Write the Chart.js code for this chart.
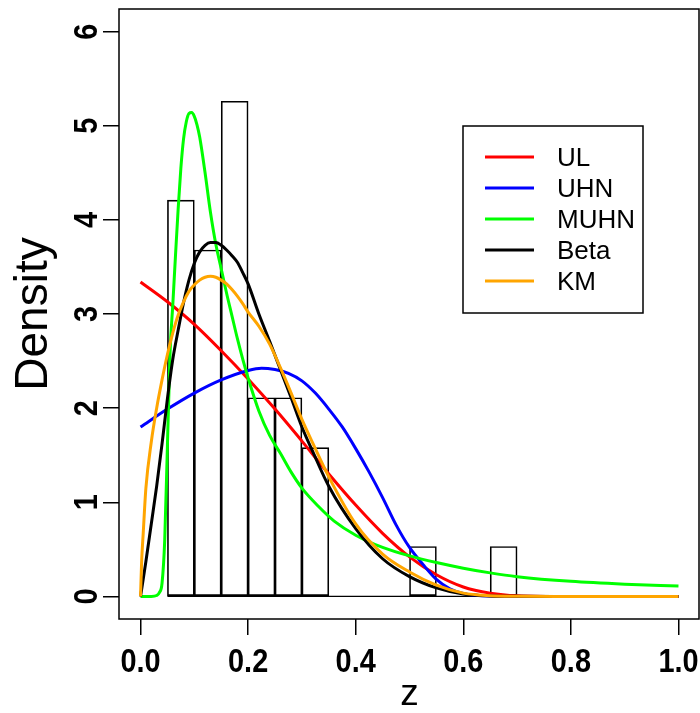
<!DOCTYPE html>
<html>
<head>
<meta charset="utf-8">
<script src="https://cdn.jsdelivr.net/npm/chart.js@4.4.1/dist/chart.umd.min.js"></script>
<style>
  html, body { margin: 0; padding: 0; background: #fff; }
  #wrap { position: relative; width: 700px; height: 713px; }
</style>
</head>
<body>
<div id="wrap"><canvas id="densChart"></canvas></div>
<script>
/* ─────────────── datos ─────────────── */
// histograma (densidad por intervalo)
const breaks = [0.05, 0.10, 0.15, 0.20, 0.25, 0.30, 0.35, 0.40, 0.45, 0.50, 0.55, 0.60, 0.65, 0.70];
const histDensity = [4.21, 3.68, 5.26, 2.11, 2.11, 1.58, 0, 0, 0, 0.53, 0, 0, 0.53];

const xTicks = [0, 0.2, 0.4, 0.6, 0.8, 1.0];
const yTicks = [0, 1, 2, 3, 4, 5, 6];

// UL
const zUL    = [0, 0.05, 0.10, 0.15, 0.20, 0.25, 0.30, 0.35, 0.40, 0.45, 0.50, 0.55, 0.60, 0.65, 0.70, 0.80, 0.90, 1.00];
const densUL = [3.34, 3.13, 2.89, 2.61, 2.31, 1.99, 1.65, 1.30, 0.97, 0.67, 0.42, 0.23, 0.10, 0.035, 0.008, 0, 0, 0];

// UHN
const zUHN    = [0, 0.05, 0.10, 0.15, 0.20, 0.225, 0.25, 0.275, 0.30, 0.325, 0.35, 0.375, 0.40, 0.425, 0.45, 0.475, 0.50, 0.525, 0.55, 0.575, 0.60, 0.65, 0.70, 0.80, 1.00];
const densUHN = [1.80, 1.99, 2.16, 2.30, 2.40, 2.425, 2.41, 2.37, 2.29, 2.16, 1.99, 1.80, 1.57, 1.32, 1.05, 0.76, 0.52, 0.34, 0.18, 0.08, 0.03, 0.003, 0, 0, 0];

// MUHN
const zMUHN    = [0, 0.02, 0.03, 0.035, 0.04, 0.045, 0.05, 0.055, 0.06, 0.065, 0.07, 0.075, 0.08, 0.085, 0.09, 0.095, 0.10, 0.105, 0.11, 0.12, 0.13, 0.14, 0.15, 0.16, 0.17, 0.18, 0.19, 0.20, 0.22, 0.24, 0.26, 0.28, 0.30, 0.33, 0.36, 0.40, 0.45, 0.50, 0.55, 0.60, 0.65, 0.70, 0.80, 0.90, 1.00];
const densMUHN = [0, 0, 0.01, 0.04, 0.14, 0.60, 1.60, 2.60, 3.10, 3.62, 4.12, 4.55, 4.86, 5.04, 5.13, 5.14, 5.10, 5.01, 4.88, 4.50, 4.08, 3.74, 3.48, 3.22, 2.98, 2.74, 2.52, 2.32, 1.97, 1.71, 1.52, 1.32, 1.15, 0.96, 0.80, 0.65, 0.52, 0.43, 0.36, 0.30, 0.25, 0.21, 0.16, 0.13, 0.11];

// Beta
const zBeta    = [0, 0.01, 0.02, 0.03, 0.04, 0.05, 0.06, 0.07, 0.08, 0.09, 0.10, 0.11, 0.12, 0.13, 0.14, 0.15, 0.16, 0.17, 0.18, 0.19, 0.20, 0.22, 0.24, 0.26, 0.28, 0.30, 0.32, 0.35, 0.40, 0.45, 0.50, 0.55, 0.60, 0.65, 0.70, 0.80, 1.00];
const densBeta = [0, 0.37, 0.77, 1.17, 1.62, 2.10, 2.52, 2.83, 3.12, 3.36, 3.54, 3.66, 3.73, 3.76, 3.76, 3.73, 3.68, 3.62, 3.55, 3.44, 3.32, 3.00, 2.71, 2.41, 2.11, 1.80, 1.54, 1.17, 0.72, 0.40, 0.21, 0.09, 0.025, 0.005, 0.001, 0, 0];

// KM
const zKM    = [0, 0.002, 0.005, 0.01, 0.02, 0.03, 0.04, 0.05, 0.06, 0.07, 0.08, 0.09, 0.10, 0.11, 0.12, 0.13, 0.14, 0.15, 0.16, 0.17, 0.18, 0.19, 0.20, 0.22, 0.24, 0.26, 0.28, 0.30, 0.32, 0.35, 0.40, 0.45, 0.50, 0.55, 0.60, 0.65, 0.70, 0.80, 1.00];
const densKM = [0, 0.36, 0.67, 1.15, 1.64, 2.00, 2.30, 2.57, 2.80, 2.99, 3.13, 3.24, 3.31, 3.36, 3.39, 3.40, 3.39, 3.36, 3.32, 3.26, 3.19, 3.11, 3.02, 2.87, 2.68, 2.43, 2.16, 1.88, 1.63, 1.27, 0.77, 0.45, 0.26, 0.12, 0.035, 0.008, 0.002, 0, 0];

/* ─────────────── helpers ─────────────── */
const toXY = (xs, ys) => xs.map((x, i) => ({ x: x, y: ys[i] }));

const TICK_FONT = "bold 34px 'Liberation Sans', Arial, sans-serif";
const TEXT_FONT = "'Liberation Sans', Arial, sans-serif";
const NARROW = 0.85;   // la fuente de los ejes es condensada

function curve(label, xs, ys, color, order) {
  return {
    type: "line",
    label: label,
    data: toXY(xs, ys),
    borderColor: color,
    borderWidth: 3,
    pointRadius: 0,
    fill: false,
    cubicInterpolationMode: "monotone",
    order: order
  };
}

const histData = breaks.slice(0, -1).map((b, i) => ({ x: (b + breaks[i + 1]) / 2, y: histDensity[i] }));

function narrowText(ctx, text, x, y, rot) {
  ctx.save();
  ctx.translate(x, y);
  if (rot) ctx.rotate(rot);
  ctx.scale(NARROW, 1);
  ctx.fillText(text, 0, 0);
  ctx.restore();
}

/* caja del gráfico, etiquetas de ejes y leyenda */
const boxPlugin = {
  id: "rbox",
  afterDraw(chart) {
    const { ctx, chartArea: a } = chart;
    ctx.save();
    ctx.strokeStyle = "#000";
    ctx.lineWidth = 1.5;
    ctx.strokeRect(a.left, a.top, a.right - a.left - 1, a.bottom - a.top);

    // etiquetas de los ticks
    ctx.fillStyle = "#000";
    ctx.font = TICK_FONT;
    ctx.textAlign = "center";
    ctx.textBaseline = "middle";
    const xs = chart.scales.x, ys = chart.scales.y;
    xs.ticks.forEach(t => narrowText(ctx, t.value.toFixed(1), xs.getPixelForValue(t.value), 663, 0));
    ys.ticks.forEach(t => narrowText(ctx, String(t.value), 88, ys.getPixelForValue(t.value), -Math.PI / 2));

    // leyenda
    ctx.lineWidth = 1.5;
    ctx.strokeRect(463, 126, 180, 187);
    const curves = chart.data.datasets.filter(d => d.type === "line" && d.label !== "base");
    ctx.font = "26px " + TEXT_FONT;
    ctx.textAlign = "left";
    ctx.textBaseline = "alphabetic";
    curves.forEach((d, i) => {
      const y = 157 + 31 * i;
      ctx.strokeStyle = d.borderColor;
      ctx.lineWidth = 3;
      ctx.beginPath();
      ctx.moveTo(485, y);
      ctx.lineTo(534, y);
      ctx.stroke();
      ctx.fillText(d.label, 557, y + 9);
    });
    ctx.restore();
  }
};

/* ─────────────── gráfico ─────────────── */
const ctx = document.getElementById("densChart").getContext("2d");
new Chart(ctx, {
  type: "bar",
  data: {
    datasets: [
      {
        type: "bar",
        label: "hist",
        data: histData,
        backgroundColor: "rgba(0,0,0,0)",
        borderColor: "#000",
        borderWidth: 1,
        borderSkipped: false,
        barPercentage: 1,
        categoryPercentage: 1,
        order: 10
      },
      {
        type: "line",
        label: "base",
        data: [{ x: breaks[0], y: 0 }, { x: breaks[breaks.length - 1], y: 0 }],
        borderColor: "#000",
        borderWidth: 1.2,
        pointRadius: 0,
        order: 9
      },
      curve("UL", zUL, densUL, "#FF0000", 5),
      curve("UHN", zUHN, densUHN, "#0000FF", 4),
      curve("MUHN", zMUHN, densMUHN, "#00FF00", 3),
      curve("Beta", zBeta, densBeta, "#000000", 2),
      curve("KM", zKM, densKM, "#FFA500", 1)
    ]
  },
  options: {
    responsive: true,
    maintainAspectRatio: false,
    animation: false,
    layout: { padding: { top: 9, right: 0, left: 0, bottom: 0 } },
    plugins: { legend: { display: false }, tooltip: { enabled: false } },
    scales: {
      x: {
        type: "linear",
        min: -0.04,
        max: 1.04,
        offset: false,
        afterBuildTicks: s => { s.ticks = xTicks.map(v => ({ value: v })); },
        afterFit: s => { s.height = 94; s.paddingLeft = 0; s.paddingRight = 0; },
        grid: { drawOnChartArea: false, drawTicks: true, tickLength: 16, color: "#000", lineWidth: 1.5, offset: false },
        border: { display: false },
        ticks: { display: false },
        title: {
          display: true,
          text: "z",
          color: "#000",
          padding: { top: 0, bottom: 0 },
          font: { family: TEXT_FONT, size: 37, lineHeight: 1.0 }
        }
      },
      y: {
        type: "linear",
        min: -0.24,
        max: 6.24,
        afterBuildTicks: s => { s.ticks = yTicks.map(v => ({ value: v })); },
        afterFit: s => { s.width = 119; s.paddingTop = 0; s.paddingBottom = 0; },
        grid: { drawOnChartArea: false, drawTicks: true, tickLength: 16, color: "#000", lineWidth: 1.5 },
        border: { display: false },
        ticks: { display: false },
        title: {
          display: true,
          text: "Density",
          color: "#000",
          padding: { top: 7, bottom: 0 },
          font: { family: TEXT_FONT, size: 46 }
        }
      }
    }
  },
  plugins: [boxPlugin]
});
</script>
</body>
</html>
